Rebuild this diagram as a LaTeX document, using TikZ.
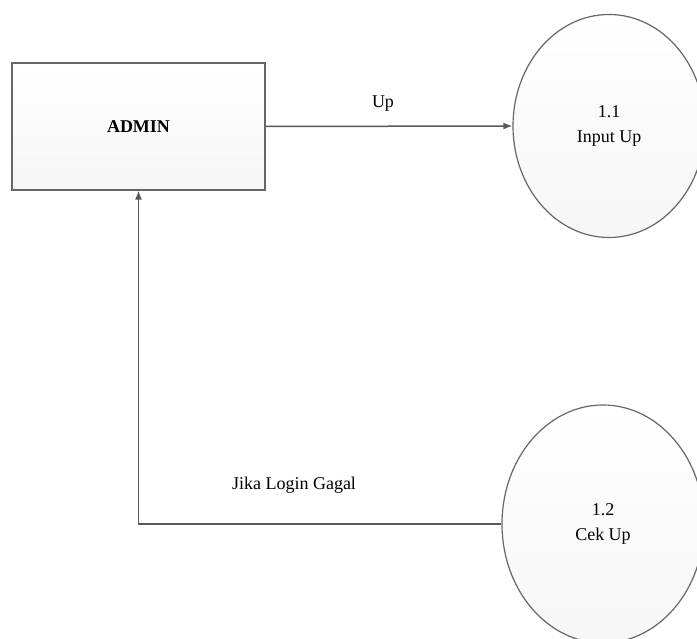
\documentclass[tikz,border=0pt]{standalone}
\usepackage{fontspec}
\setmainfont{Liberation Serif}
\usetikzlibrary{shapes.geometric,arrows.meta}

\begin{document}
\begin{tikzpicture}[
    x=1pt, y=-1pt,
    >={Latex[length=9pt,width=7pt]},
    every node/.style={font=\fontsize{18}{25}\selectfont},
    entity/.style={
        draw=gray!80!black, line width=1.2pt,
        minimum width=253pt, minimum height=127pt,
        top color=white, bottom color=gray!7,
        font=\fontsize{18}{25}\selectfont\bfseries
    },
    process/.style={
        ellipse, draw=gray!80!black, line width=1.2pt,
        inner sep=0pt, align=center,
        top color=white, bottom color=gray!7
    },
    flow/.style={->, draw=gray!70!black, line width=1.5pt}
]

% fixed frame of the picture
\useasboundingbox (0,0) rectangle (697,639);
\clip (0,0) rectangle (697,639);

% External entity and the two processes
\node[entity]  (admin) at (138.5,126.5) {ADMIN};
\node[process, minimum width=192pt, minimum height=223pt] (p1) at (609,126)
    {1.1\\Input Up};
\node[process, minimum width=202pt, minimum height=238pt] (p2) at (603,524)
    {1.2\\Cek Up};

% Data flows
\draw[flow] (admin.east) -- (p1.west);
\draw[flow] (p2.west) -- (p2.west -| admin.south) -- (admin.south);

% Flow labels
\node (lup)    at (383,104) {Up};
\node (lgagal) at (294,485) {Jika Login Gagal};

\end{tikzpicture}
\end{document}
